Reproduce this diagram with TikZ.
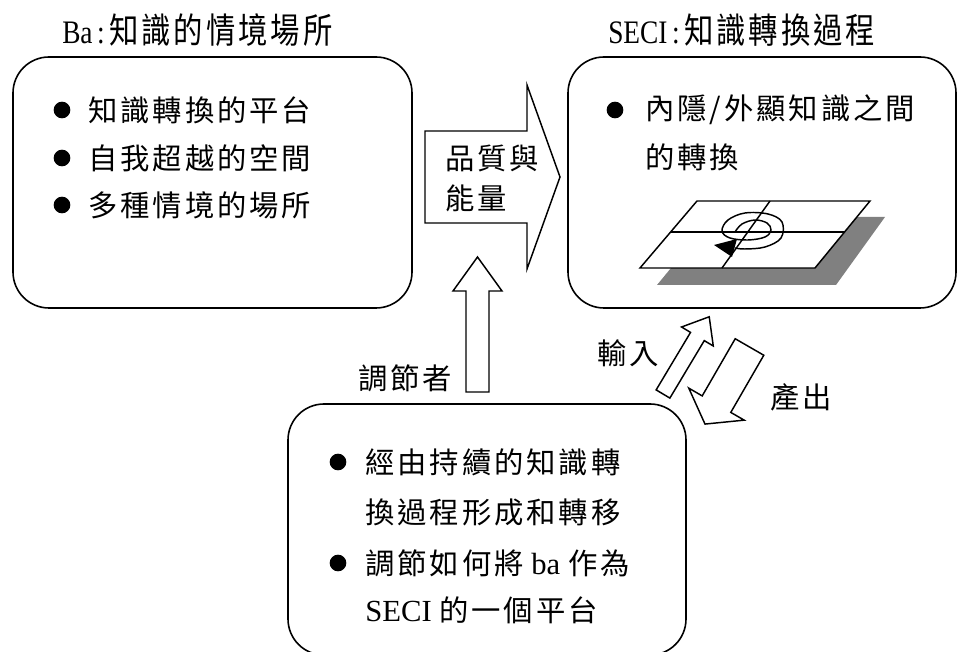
\documentclass[tikz,border=0pt]{standalone}
\usepackage{fontspec}
\usepackage{graphicx}
\setmainfont{Liberation Serif}
\newfontfamily\cjk{Noto Sans CJK TC}[LetterSpace=10,Scale=0.957]
\usetikzlibrary{fit}
\definecolor{shadowgray}{HTML}{808080}

\begin{document}
\begin{tikzpicture}[x=0.75pt, y=-0.75pt,
  frame/.style={draw, rounded corners=27pt, inner sep=0pt, line width=1.2pt},
  dot/.style={circle, fill, inner sep=0pt, minimum size=12.5pt},
  txt/.style={anchor=west, inner sep=0pt, font=\fontsize{23}{27}\selectfont},
  blockline/.style={draw, fill=white, line width=1.1pt, line join=miter},
  pics/blockarrow/.style n args={4}{code={
    \path[blockline] (0,-#2) -- ({#1-#4},-#2) -- ({#1-#4},-#3) -- (#1,0)
      -- ({#1-#4},#3) -- ({#1-#4},#2) -- (0,#2) -- cycle;
  }}
]
\useasboundingbox (0,0) rectangle (958,652);

% headings
\node[txt, font=\fontsize{20.5}{25}\selectfont] (hba) at (62,30)
  {\scalebox{1}[1.2]{Ba\,:\,{\fontsize{23}{27}\selectfont\cjk 知識的情境場所}}};
\node[txt, font=\fontsize{20.5}{25}\selectfont] (hseci) at (608,30)
  {\scalebox{1}[1.2]{SECI\,:\,{\fontsize{23}{27}\selectfont\cjk 知識轉換過程}}};

% the three rounded frames
\node[frame, fit={(13,57) (412,308)}] (ba) {};
\node[frame, fit={(568,57) (956,308)}] (seci) {};
\node[frame, fit={(288,404) (686,655)}] (mod) {};

% Ba list
\node[dot] (d1) at (62,110) {};
\node[dot] (d2) at (62,158) {};
\node[dot] (d3) at (62,205) {};
\node[txt] (l1) at (88,110) {\cjk 知識轉換的平台};
\node[txt] (l2) at (88,158) {\cjk 自我超越的空間};
\node[txt] (l3) at (88,205) {\cjk 多種情境的場所};

% SECI text
\node[dot] (d4) at (615,110) {};
\node[txt] (s1) at (645,110) {\cjk 內隱/外顯知識之間};
\node[txt] (s2) at (645,157) {\cjk 的轉換};

% SECI plane with shadow and spiral
\fill[shadowgray] (713,217) -- (885,217) -- (836,285) -- (657,285) -- cycle;
\coordinate (p1) at (697,201);
\coordinate (p2) at (870,201);
\coordinate (p3) at (815,268);
\coordinate (p4) at (640,268);
\draw[line width=1.1pt, fill=white, line join=miter] (p1) -- (p2) -- (p3) -- (p4) -- cycle;
\draw[line width=1.1pt] (670.5,232) -- (844.5,232);
\draw[line width=1.1pt] (770,201) -- (722,268);
\draw[line width=1.1pt] plot[smooth, tension=0.6] coordinates {
  (735,232) (742,224) (755,220) (767,223) (771,230) (765,237) (748,240)
  (730,238) (722,231) (728,220) (745,213) (768,214) (782,222) (781,238)
  (765,247) (745,249) (735,248)};
\fill (714,245) -- (737,239) -- (732,257) -- cycle;

% block arrows
\pic at (425,177) {blockarrow={135}{46}{92}{33}};
\pic[rotate=90] at (477.5,392) {blockarrow={135}{11.5}{24.5}{34}};
\pic[rotate=59.1] at (663,394) {blockarrow={90}{8}{18.5}{23}};
\pic[rotate=-120] at (749.5,347) {blockarrow={89}{16.5}{32}{23}};

\node[txt] (q1) at (445,158) {\cjk 品質與};
\node[txt] (q2) at (445,198) {\cjk 能量};
\node[txt] (m0) at (358,378) {\cjk 調節者};
\node[txt] (in) at (597,353) {\cjk 輸入};
\node[txt] (out) at (770,397) {\cjk 產出};

% moderator list
\node[dot] (d5) at (338,462) {};
\node[dot] (d6) at (338,563) {};
\node[txt] (m1) at (365,462) {\cjk 經由持續的知識轉};
\node[txt] (m2) at (365,512) {\cjk 換過程形成和轉移};
\node[txt] (m3) at (365,563) {{\cjk 調節如何將} ba {\cjk 作為}};
\node[txt] (m4) at (365,610) {SECI {\cjk 的一個平台}};
\end{tikzpicture}
\end{document}
